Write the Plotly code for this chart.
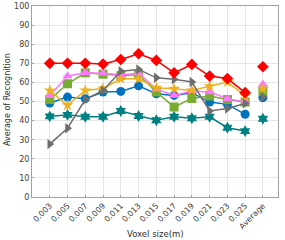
import plotly.graph_objects as go

categories = ["0.003", "0.005", "0.007", "0.009", "0.011", "0.013", "0.015",
              "0.017", "0.019", "0.021", "0.023", "0.025", "Average"]

red = [70, 70, 70, 69.6, 72, 75, 71.5, 65, 69.4, 63.3, 62, 54.6, 68.2]
gray = [27.7, 36, 51, 55.8, 65.9, 66.8, 62.4, 61.6, 60.2, 45, 46.3, 49, 52.3]
blue = [49.2, 52.3, 51.5, 55, 55.3, 58.2, 54, 53.2, 54.6, 49.7, 48.5, 43.3, 52]
green = [51, 59.3, 65, 64.3, 63.6, 64, 55, 47.1, 51.6, 52.9, 51, 49.7, 55.5]
pink = [53, 63.4, 65, 64.8, 64, 64.8, 56.5, 53.2, 55.5, 55, 51.5, 49.7, 59]
orange = [55.8, 48, 55.8, 56.8, 61.9, 61.9, 57.2, 56.7, 55.8, 58, 60.2, 52.9, 56.7]
teal = [42.2, 43, 42, 42, 45, 42.4, 40.2, 42, 41.2, 42, 36.3, 34.5, 41]

series = [
    (teal, "#008080", "hexagram"),
    (blue, "#0072BD", "circle"),
    (green, "#77AC30", "square"),
    (pink, "#FF77FF", "triangle-up"),
    (orange, "#EDB120", "star"),
    (gray, "#6E6E6E", "triangle-right"),
    (red, "#FF0000", "diamond"),
]

fig = go.Figure()
for vals, color, sym in series:
    fig.add_trace(go.Scatter(
        x=categories[:-1], y=vals[:-1], mode="lines+markers",
        line=dict(color=color, width=1.5),
        marker=dict(symbol=sym, size=9, color=color),
        showlegend=False))
    fig.add_trace(go.Scatter(
        x=categories[-1:], y=vals[-1:], mode="markers",
        marker=dict(symbol=sym, size=9, color=color),
        showlegend=False))

axis_common = dict(
    showline=True, linecolor="#A0A0A0", linewidth=1, mirror=True,
    showgrid=True, gridcolor="#E6E6E6", gridwidth=1,
    ticks="inside", ticklen=2, tickcolor="#A0A0A0",
    tickfont=dict(family="DejaVu Sans", size=8, color="#404040"),
    zeroline=False, automargin=False,
)

fig.update_layout(
    width=285, height=240,
    margin=dict(l=32, r=7, t=6, b=43),
    paper_bgcolor="white", plot_bgcolor="white",
    xaxis=dict(type="category", categoryorder="array", categoryarray=categories,
               range=[-1, 12.85], tickangle=-45, **axis_common),
    yaxis=dict(range=[0, 100], dtick=10, **axis_common),
    annotations=[
        dict(text="Voxel size(m)", x=0.5, y=-0.194, xref="paper", yref="paper",
             xanchor="center", yanchor="middle", showarrow=False,
             font=dict(family="DejaVu Sans", size=8.5, color="#303030")),
        dict(text="Average of Recognition", x=-0.1, y=0.51, xref="paper", yref="paper",
             xanchor="center", yanchor="middle", showarrow=False, textangle=-90,
             font=dict(family="DejaVu Sans", size=8, color="#303030")),
    ],
)

fig.write_html("out.html", config={"displayModeBar": False},
               post_script="document.body.style.margin='0';document.body.style.overflow='hidden';")
